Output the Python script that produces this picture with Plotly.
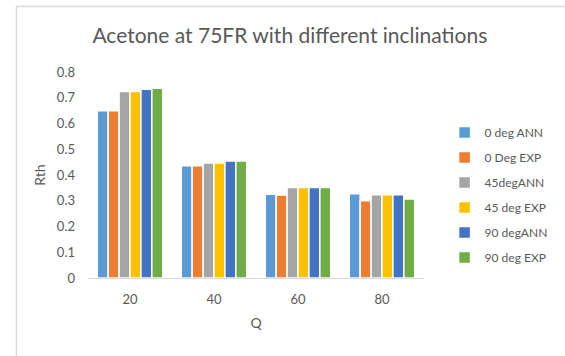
import plotly.graph_objects as go

categories = ["20", "40", "60", "80"]
series_names = ["0 deg ANN", "0 Deg EXP", "45degANN", "45 deg EXP", "90 degANN", "90 deg EXP"]
deg0_ann = [0.65, 0.436, 0.325, 0.327]
deg0_exp = [0.65, 0.436, 0.322, 0.300]
deg45_ann = [0.724, 0.447, 0.351, 0.323]
deg45_exp = [0.724, 0.447, 0.351, 0.323]
deg90_ann = [0.733, 0.454, 0.351, 0.323]
deg90_exp = [0.737, 0.454, 0.351, 0.307]
colors = ["#5B9BD5", "#ED7D31", "#A5A5A5", "#FFC000", "#4472C4", "#70AD47"]
y_ticks = [0, 0.1, 0.2, 0.3, 0.4, 0.5, 0.6, 0.7, 0.8]

series = [deg0_ann, deg0_exp, deg45_ann, deg45_exp, deg90_ann, deg90_exp]

FONT = "Lato"
GREY = "#595959"

fig = go.Figure()
for i, (name, vals) in enumerate(zip(series_names, series)):
    fig.add_trace(go.Bar(
        x=categories, y=vals, name=name,
        marker=dict(color=colors[i], line=dict(color="white", width=1.5)),
        legendgroup=f"g{i}",
    ))

W, H = 565, 356
L, R, T, B = 88, 447, 72, 278
pw, ph = R - L, B - T

def px(x):
    return (x - L) / pw

def py(y):
    return (B - y) / ph

fig.update_layout(
    width=W, height=H,
    margin=dict(l=L, r=W - R, t=T, b=H - B, pad=0),
    paper_bgcolor="white", plot_bgcolor="white",
    barmode="group", bargap=0.22, bargroupgap=0,
    font=dict(family=FONT, color=GREY, size=12),
    title=dict(text="Acetone at 75FR with different inclinations",
               x=0.513, xanchor="center", y=1 - 36 / H, yanchor="middle",
               font=dict(family=FONT, size=21, color=GREY)),
    legend=dict(x=px(469), y=py(118), xanchor="left", yanchor="top",
                font=dict(family=FONT, size=12, color=GREY),
                tracegroupgap=6, bgcolor="rgba(0,0,0,0)", itemwidth=30),
    xaxis=dict(showline=True, linecolor="#d9d9d9", linewidth=1, ticks="",
               showgrid=False, ticklabelstandoff=9,
               tickfont=dict(family=FONT, size=13, color=GREY),
               title=dict(text="Q", standoff=12, font=dict(family=FONT, size=14, color=GREY))),
    yaxis=dict(range=[0, 0.8], tickvals=y_ticks, ticktext=[f"{v:g}" for v in y_ticks],
               showgrid=False, zeroline=False, showline=False, ticks="",
               ticklabelstandoff=12,
               tickfont=dict(family=FONT, size=13, color=GREY),
               title=dict(text="Rth", standoff=7, font=dict(family=FONT, size=14, color=GREY))),
    shapes=[
        dict(type="line", xref="paper", yref="paper", x0=px(11.5), x1=px(11.5),
             y0=py(6.5), y1=py(400), line=dict(color="#d9d9d9", width=1.5)),
        dict(type="line", xref="paper", yref="paper", x0=px(11.5), x1=px(600),
             y0=py(6.5), y1=py(6.5), line=dict(color="#d9d9d9", width=1.5)),
    ],
)

fig.write_html("out.html")
